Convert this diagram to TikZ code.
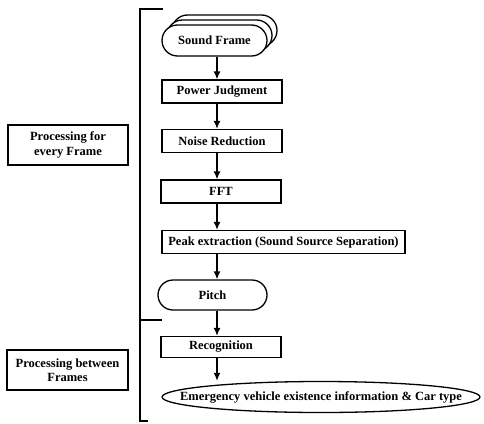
\documentclass[tikz,border=0pt]{standalone}
\usepackage{fontspec}
\setmainfont{Liberation Serif}
\usetikzlibrary{shapes.misc,shapes.geometric,shadows,arrows.meta}

\tikzset{
  box/.style={draw, line width=1.2pt, inner sep=0pt, minimum height=23pt, minimum width=120pt},
  pill/.style={draw, line width=1.3pt, rounded rectangle, inner sep=0pt, fill=white},
  side/.style={draw, line width=1.2pt, inner sep=0pt, minimum width=120pt, minimum height=40pt, align=center},
  flow/.style={line width=1.4pt, -{Latex[length=8pt,width=7pt]}},
}

\begin{document}
\begin{tikzpicture}[x=1pt, y=-1pt, font=\fontsize{12.5}{14.5}\selectfont\bfseries]
\useasboundingbox (0,0) rectangle (484,423);

% bracket
\draw[line width=2pt] (163,9) -- (140,9) -- (140,421) -- (148,421);
\draw[line width=2pt] (140,320) -- (162,320);

\node[pill, minimum width=105pt, minimum height=31pt,
  copy shadow={shadow xshift=10pt, shadow yshift=10pt},
  copy shadow={shadow xshift=5pt, shadow yshift=5pt}] (sf) at (214.5,40.5) {Sound Frame};
\node[box] (pj) at (222,91.5) {Power Judgment};
\node[box] (nr) at (222,141)  {Noise Reduction};
\node[box] (fft) at (221,191.5) {FFT};
\node[box, minimum width=243pt] (pe) at (283.5,242) {Peak extraction (Sound Source Separation)};
\node[pill, minimum width=109pt, minimum height=30pt] (pitch) at (212.5,295) {Pitch};
\node[box, minimum height=21pt] (rec) at (221,347) {Recognition};
\node[draw, ellipse, line width=1.3pt, inner xsep=-40pt, inner ysep=0pt, minimum width=318pt, minimum height=31pt] (ev) at (321,397) {Emergency vehicle existence information \& Car type};

\node[side] (every) at (68,145) {Processing for\\every Frame};
\node[side, minimum width=121pt] (between) at (67.5,370) {Processing between\\Frames};

\coordinate (col) at (217,0);
\draw[flow] (sf.south -| col) -- (pj.north -| col);
\draw[flow] (pj.south -| col) -- (nr.north -| col);
\draw[flow] (nr.south -| col) -- (fft.north -| col);
\draw[flow] (fft.south -| col) -- (pe.north -| col);
\draw[flow] (pe.south -| col) -- (pitch.north -| col);
\draw[flow] (pitch.south -| col) -- (rec.north -| col);
\draw[flow] (rec.south -| col) -- (ev.north -| col);
\end{tikzpicture}
\end{document}
